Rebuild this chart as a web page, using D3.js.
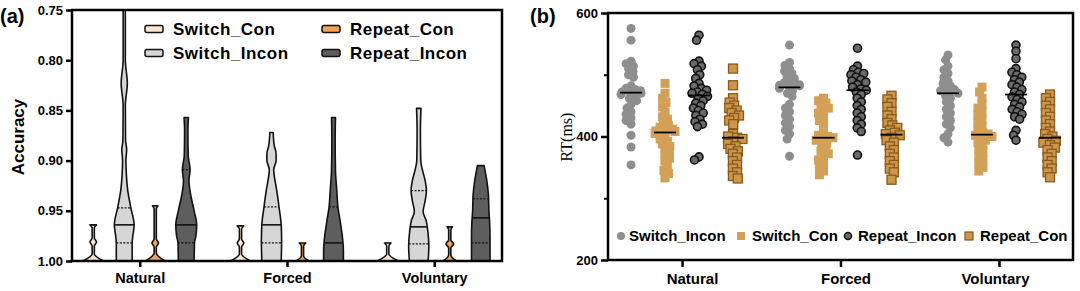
<html>
<head>
  <title>Accuracy violins and RT scatter</title>
  <script src="https://cdn.jsdelivr.net/npm/d3@7"></script>
  <style>
    body { margin: 0; background: #fff; }
    text { font-family: Arial, "Liberation Sans", sans-serif; }
  </style>
</head>
<body>
<script>
// Figure size
const W = 1080, H = 291;

// Shared categories
const groups = ["Natural", "Forced", "Voluntary"];

// ---------- panel (a): accuracy violins ----------
const violinSeries = ["Switch_Con", "Switch_Incon", "Repeat_Con", "Repeat_Incon"];
const violinColors = ["#fbe6d2", "#d6d6d6", "#f0a25c", "#5e5e5e"];
const accTicks = [0.75, 0.80, 0.85, 0.90, 0.95, 1.00];

// violin profiles: [accuracy, relative density]
const natSwitchCon = [[0.964, 0.3], [0.967, 0.1], [0.977, 0.1], [0.981, 0.3], [0.985, 0.1], [0.993, 0.1], [1.0, 0.95]];
const natSwitchIncon = [[0.75, 0.1], [0.80, 0.1], [0.823, 0.28], [0.845, 0.1], [0.88, 0.12], [0.889, 0.22], [0.90, 0.15], [0.915, 0.2], [0.93, 0.32], [0.947, 0.6], [0.964, 0.9], [0.975, 0.78], [0.982, 0.72], [1.0, 0.72]];
const natRepeatCon = [[0.945, 0.25], [0.948, 0.1], [0.978, 0.1], [0.982, 0.3], [0.986, 0.1], [0.992, 0.1], [1.0, 0.9]];
const natRepeatIncon = [[0.857, 0.2], [0.87, 0.15], [0.895, 0.18], [0.909, 0.35], [0.92, 0.25], [0.935, 0.42], [0.95, 0.72], [0.964, 0.95], [0.975, 0.88], [0.982, 0.75], [1.0, 0.72]];
const forSwitchCon = [[0.965, 0.3], [0.968, 0.1], [0.978, 0.1], [0.982, 0.3], [0.986, 0.1], [0.993, 0.1], [1.0, 0.9]];
const forSwitchIncon = [[0.872, 0.15], [0.885, 0.25], [0.893, 0.42], [0.90, 0.42], [0.909, 0.2], [0.915, 0.25], [0.93, 0.48], [0.946, 0.68], [0.964, 0.88], [0.98, 0.92], [1.0, 0.88]];
const forRepeatCon = [[0.982, 0.3], [0.985, 0.1], [0.995, 0.1], [1.0, 0.6]];
const forRepeatIncon = [[0.857, 0.18], [0.88, 0.15], [0.91, 0.18], [0.93, 0.3], [0.946, 0.4], [0.96, 0.6], [0.975, 0.8], [0.99, 0.9], [1.0, 0.9]];
const volSwitchCon = [[0.982, 0.3], [0.985, 0.1], [0.993, 0.1], [1.0, 0.95]];
const volSwitchIncon = [[0.848, 0.2], [0.87, 0.15], [0.90, 0.18], [0.91, 0.35], [0.92, 0.58], [0.93, 0.7], [0.94, 0.58], [0.951, 0.4], [0.96, 0.68], [0.97, 0.82], [0.985, 0.92], [1.0, 0.85]];
const volRepeatCon = [[0.966, 0.25], [0.969, 0.1], [0.979, 0.1], [0.983, 0.35], [0.987, 0.1], [0.994, 0.1], [1.0, 0.6]];
const volRepeatIncon = [[0.905, 0.3], [0.92, 0.55], [0.935, 0.7], [0.95, 0.74], [0.96, 0.8], [0.975, 0.84], [1.0, 0.84]];

// quartile lines [q1, median, q3] (empty = none drawn)
const natQuart = [[], [0.947, 0.964, 0.982], [], [0.909, 0.964, 0.982]];
const forQuart = [[], [0.946, 0.964, 0.982], [], [0.946, 0.982, 1.0]];
const volQuart = [[], [0.93, 0.966, 0.983], [], [0.938, 0.957, 0.982]];

const violinProfiles = [
  [natSwitchCon, natSwitchIncon, natRepeatCon, natRepeatIncon],
  [forSwitchCon, forSwitchIncon, forRepeatCon, forRepeatIncon],
  [volSwitchCon, volSwitchIncon, volRepeatCon, volRepeatIncon]
];
const violinQuartiles = [natQuart, forQuart, volQuart];

// ---------- panel (b): RT scatter ----------
const rtSeries = ["Switch_Incon", "Switch_Con", "Repeat_Incon", "Repeat_Con"];
const rtTicks = [200, 400, 600];
const rtMinorTicks = [300, 500];

const rtNatSwitchIncon = [575, 556, 522, 518, 514, 510, 505, 500, 496, 482, 478, 476, 474, 472, 472, 470, 468, 466, 462, 458, 452, 446, 440, 436, 430, 426, 420, 402, 383, 354];
const rtNatSwitchCon = [486, 470, 462, 455, 448, 440, 432, 428, 422, 418, 415, 412, 410, 409, 408, 405, 400, 396, 392, 388, 384, 380, 375, 370, 365, 360, 352, 345, 340, 333];
const rtNatRepeatIncon = [564, 556, 522, 518, 514, 508, 500, 494, 486, 482, 478, 475, 472, 470, 468, 465, 462, 458, 454, 450, 446, 442, 438, 434, 428, 424, 420, 416, 367, 362];
const rtNatRepeatCon = [510, 483, 462, 455, 450, 446, 442, 438, 434, 430, 426, 420, 404, 400, 398, 396, 392, 388, 384, 380, 376, 372, 366, 360, 354, 348, 342, 336, 332];
const rtForSwitchIncon = [548, 520, 515, 510, 506, 502, 498, 494, 490, 487, 485, 484, 483, 482, 481, 478, 474, 470, 465, 452, 446, 440, 434, 428, 422, 416, 410, 404, 396, 368];
const rtForSwitchCon = [462, 458, 454, 450, 446, 442, 438, 432, 426, 420, 406, 402, 400, 398, 396, 394, 390, 386, 380, 376, 372, 366, 362, 356, 350, 344, 338];
const rtForRepeatIncon = [543, 514, 508, 504, 502, 500, 496, 492, 490, 488, 484, 480, 477, 475, 472, 468, 462, 456, 450, 444, 438, 432, 426, 420, 414, 408, 370];
const rtForRepeatCon = [466, 460, 454, 448, 440, 434, 428, 422, 418, 414, 410, 406, 404, 402, 398, 394, 390, 384, 378, 372, 366, 360, 354, 348, 342, 330];
const rtVolSwitchIncon = [532, 524, 514, 508, 502, 496, 490, 486, 482, 478, 476, 474, 472, 470, 466, 462, 456, 450, 444, 438, 432, 426, 420, 414, 404, 398, 391];
const rtVolSwitchCon = [480, 472, 462, 452, 446, 440, 434, 428, 422, 416, 410, 406, 404, 402, 400, 398, 394, 390, 386, 380, 374, 368, 362, 356, 350, 344];
const rtVolRepeatIncon = [548, 538, 526, 510, 504, 500, 496, 492, 488, 484, 480, 476, 472, 468, 464, 460, 456, 452, 448, 444, 440, 436, 432, 428, 410, 402, 394];
const rtVolRepeatCon = [468, 462, 456, 450, 444, 438, 432, 426, 420, 414, 408, 404, 400, 396, 393, 390, 386, 382, 378, 372, 366, 360, 354, 348, 342, 334];

const rtValues = [
  [rtNatSwitchIncon, rtNatSwitchCon, rtNatRepeatIncon, rtNatRepeatCon],
  [rtForSwitchIncon, rtForSwitchCon, rtForRepeatIncon, rtForRepeatCon],
  [rtVolSwitchIncon, rtVolSwitchCon, rtVolRepeatIncon, rtVolRepeatCon]
];

const svg = d3.select("body").append("svg")
  .attr("width", W)
  .attr("height", H);

// ================= panel (a) =================
const aL = 72, aR = 502, aT = 10, aB = 261;

const xA = d3.scalePoint().domain(groups).range([aL, aR]).padding(0.46);
const subA = d3.scaleBand().domain(violinSeries).range([-62, 62]);
const yA = d3.scaleLinear().domain([0.75, 1.0]).range([aT, aB]);
const wA = d3.scaleLinear().domain([0, 1]).range([0, 11]);

const gA = svg.append("g");

// violins
function profileWidth(prof, v) {
  // linear lookup of the half width at a given accuracy
  for (let i = 0; i < prof.length - 1; i++) {
    if (v >= prof[i][0] && v <= prof[i + 1][0]) {
      const t = (v - prof[i][0]) / (prof[i + 1][0] - prof[i][0]);
      return prof[i][1] + t * (prof[i + 1][1] - prof[i][1]);
    }
  }
  return prof[prof.length - 1][1];
}

groups.forEach(function (g, gi) {
  violinSeries.forEach(function (s, si) {
    const cx = xA(g) + subA(s) + subA.bandwidth() / 2;
    const prof = violinProfiles[gi][si];
    const area = d3.area()
      .curve(d3.curveMonotoneY)
      .y(d => yA(d[0]))
      .x0(d => cx - wA(d[1]))
      .x1(d => cx + wA(d[1]));
    gA.append("path")
      .datum(prof)
      .attr("d", area)
      .attr("fill", violinColors[si])
      .attr("stroke", "#111")
      .attr("stroke-width", 1.6)
      .attr("stroke-linejoin", "round");

    violinQuartiles[gi][si].forEach(function (q, qi) {
      const hw = wA(profileWidth(prof, q));
      gA.append("line")
        .attr("x1", cx - hw).attr("x2", cx + hw)
        .attr("y1", yA(q)).attr("y2", yA(q))
        .attr("stroke", "#111")
        .attr("stroke-width", qi === 1 ? 1.6 : 1.2)
        .attr("stroke-dasharray", qi === 1 ? null : "2,1.5");
    });
  });
});

// frame
gA.append("rect")
  .attr("x", aL).attr("y", aT)
  .attr("width", aR - aL).attr("height", aB - aT)
  .attr("fill", "none").attr("stroke", "#000").attr("stroke-width", 2.5);

// y axis
const yAxisA = d3.axisLeft(yA).tickValues(accTicks).tickFormat(d3.format(".2f")).tickSize(6).tickPadding(3);
gA.append("g")
  .attr("transform", "translate(" + aL + ",0)")
  .call(yAxisA)
  .call(g => g.select(".domain").remove())
  .call(g => g.selectAll("line").attr("stroke-width", 2.5))
  .call(g => g.selectAll("text").attr("font-size", 13).attr("font-weight", "bold").attr("fill", "#000"));

// x axis
const xAxisA = d3.axisBottom(xA).tickSize(6).tickPadding(6);
gA.append("g")
  .attr("transform", "translate(0," + aB + ")")
  .call(xAxisA)
  .call(g => g.select(".domain").remove())
  .call(g => g.selectAll("line").attr("stroke-width", 2.5))
  .call(g => g.selectAll("text").attr("font-size", 14.5).attr("font-weight", "bold").attr("fill", "#000"));

gA.append("text")
  .attr("transform", "translate(24,137) rotate(-90)")
  .attr("text-anchor", "middle")
  .attr("font-size", 17).attr("font-weight", "bold")
  .text("Accuracy");

gA.append("text")
  .attr("x", 0).attr("y", 23)
  .attr("font-size", 20).attr("font-weight", "bold")
  .text("(a)");

// legend (a)
const legA = gA.append("g");
violinSeries.forEach(function (s, i) {
  const col = i < 2 ? 0 : 1;
  const row = i % 2;
  const lx = 145 + col * 177, ly = 29 + row * 24;
  legA.append("rect")
    .attr("x", lx).attr("y", ly - 3.5)
    .attr("width", 18).attr("height", 7).attr("rx", 2)
    .attr("fill", violinColors[i]).attr("stroke", "#111").attr("stroke-width", 1.5);
  legA.append("text")
    .attr("x", lx + 28).attr("y", ly)
    .attr("dy", "0.36em")
    .attr("font-size", 17).attr("font-weight", "bold")
    .attr("letter-spacing", 0.5)
    .text(s);
});

// ================= panel (b) =================
const bL = 608, bR = 1073, bT = 13, bB = 260;

const xB = d3.scalePoint().domain(groups).range([bL, bR]).padding(0.467);
const subB = d3.scaleBand().domain(rtSeries).range([-68, 68]);
const yB = d3.scaleLinear().domain([200, 600]).range([bB, bT]);

const rtStyle = [
  { shape: "circle", fill: "#8e8e8e", stroke: "none" },
  { shape: "square", fill: "#d3a057", stroke: "none" },
  { shape: "circle", fill: "#6a6a6a", stroke: "#111" },
  { shape: "square", fill: "#cc974c", stroke: "#8a5a1c" }
];

const gB = svg.append("g");

// simple dodge layout so points spread sideways like a scatter dot plot
function dodge(vals, cx, diam, maxDx) {
  const placed = [];
  const sorted = vals.slice().sort((a, b) => b - a);
  sorted.forEach(function (v) {
    const y = yB(v);
    const near = placed.filter(p => Math.abs(p.y - y) < diam);
    const cands = [0];
    near.forEach(function (p) {
      const dx = Math.sqrt(diam * diam - (p.y - y) * (p.y - y));
      cands.push(p.dx - dx, p.dx + dx);
    });
    cands.sort((a, b) => Math.abs(a) - Math.abs(b));
    let best = 0;
    for (const c of cands) {
      if (near.every(p => Math.abs(p.dx - c) >= Math.sqrt(Math.max(0, diam * diam - (p.y - y) * (p.y - y))) - 1e-6)) {
        best = c; break;
      }
    }
    best = Math.max(-maxDx, Math.min(maxDx, best));
    placed.push({ v: v, y: y, dx: best });
  });
  return placed.map(p => ({ v: p.v, x: cx + p.dx, y: p.y }));
}

groups.forEach(function (g, gi) {
  rtSeries.forEach(function (s, si) {
    const cx = xB(g) + subB(s) + subB.bandwidth() / 2;
    const st = rtStyle[si];
    const pts = dodge(rtValues[gi][si], cx, 5.5, 10);
    const sel = gB.append("g").selectAll("*").data(pts).enter();
    if (st.shape === "circle") {
      sel.append("circle")
        .attr("cx", d => d.x).attr("cy", d => d.y)
        .attr("r", st.stroke === "none" ? 4.5 : 4)
        .attr("fill", st.fill)
        .attr("stroke", st.stroke)
        .attr("stroke-width", 1.6);
    } else {
      sel.append("rect")
        .attr("x", d => d.x - 4.5).attr("y", d => d.y - 4.5)
        .attr("width", 9).attr("height", 9)
        .attr("fill", st.fill)
        .attr("stroke", st.stroke)
        .attr("stroke-width", 1.3);
    }
    const med = d3.median(rtValues[gi][si]);
    gB.append("line")
      .attr("x1", cx - 11).attr("x2", cx + 11)
      .attr("y1", yB(med)).attr("y2", yB(med))
      .attr("stroke", "#000").attr("stroke-width", 1.8);
  });
});

// frame
gB.append("rect")
  .attr("x", bL).attr("y", bT)
  .attr("width", bR - bL).attr("height", bB - bT)
  .attr("fill", "none").attr("stroke", "#000").attr("stroke-width", 2.5);

const yAxisB = d3.axisLeft(yB).tickValues(rtTicks).tickSize(7).tickPadding(3);
gB.append("g")
  .attr("transform", "translate(" + bL + ",0)")
  .call(yAxisB)
  .call(g => g.select(".domain").remove())
  .call(g => g.selectAll("line").attr("stroke-width", 2.5))
  .call(g => g.selectAll("text").attr("font-size", 13).attr("font-weight", "bold").attr("fill", "#000"));

const yMinorB = d3.axisLeft(yB).tickValues(rtMinorTicks).tickSize(4).tickFormat("");
gB.append("g")
  .attr("transform", "translate(" + bL + ",0)")
  .call(yMinorB)
  .call(g => g.select(".domain").remove())
  .call(g => g.selectAll("line").attr("stroke-width", 2));

// label nudges (the original labels sit slightly off their ticks)
const xLabelShiftB = [10, 5, -4];
const xAxisB = d3.axisBottom(xB).tickSize(7).tickPadding(6);
gB.append("g")
  .attr("transform", "translate(0," + bB + ")")
  .call(xAxisB)
  .call(g => g.select(".domain").remove())
  .call(g => g.selectAll("line").attr("stroke-width", 2.5))
  .call(g => g.selectAll("text").attr("font-size", 15).attr("font-weight", "bold").attr("fill", "#000")
    .attr("dx", (d, i) => xLabelShiftB[i]));

gB.append("text")
  .attr("transform", "translate(572,137) rotate(-90)")
  .attr("text-anchor", "middle")
  .style("font-family", "'Liberation Serif', 'Times New Roman', serif")
  .attr("font-size", 16)
  .text("RT(ms)");

gB.append("text")
  .attr("x", 530).attr("y", 23)
  .attr("font-size", 20).attr("font-weight", "bold")
  .text("(b)");

// legend (b)
const legBx = [621, 741, 848, 969];
const legBgap = [8, 11, 10, 11];
rtSeries.forEach(function (s, i) {
  const st = rtStyle[i];
  const ly = 236;
  if (st.shape === "circle") {
    gB.append("circle")
      .attr("cx", legBx[i]).attr("cy", ly).attr("r", st.stroke === "none" ? 4 : 3.5)
      .attr("fill", st.fill).attr("stroke", st.stroke).attr("stroke-width", 1.5);
  } else {
    gB.append("rect")
      .attr("x", legBx[i] - 4).attr("y", ly - 4)
      .attr("width", 8).attr("height", 8)
      .attr("fill", st.fill).attr("stroke", st.stroke).attr("stroke-width", 1.2);
  }
  gB.append("text")
    .attr("x", legBx[i] + legBgap[i]).attr("y", ly)
    .attr("dy", "0.36em")
    .attr("font-size", 15).attr("font-weight", "bold")
    .text(s);
});
</script>
</body>
</html>
